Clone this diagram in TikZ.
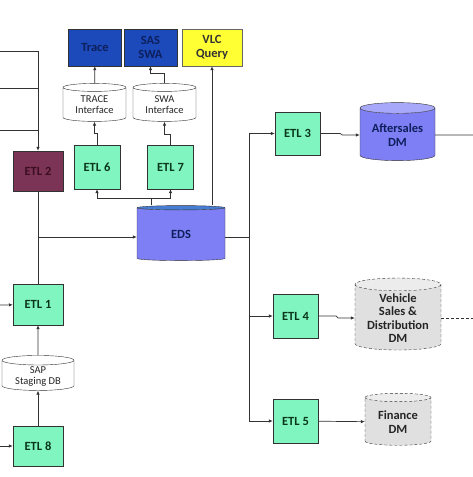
\documentclass[tikz,border=0pt]{standalone}
\usepackage{fontspec}
\setmainfont{Carlito}
\usetikzlibrary{shapes.geometric,arrows.meta}
\definecolor{etlgreen}{RGB}{128,245,192}
\definecolor{etltext}{RGB}{10,55,28}
\definecolor{maroonfill}{RGB}{123,52,85}
\definecolor{maroontext}{RGB}{60,14,34}
\definecolor{appblue}{RGB}{28,74,186}
\definecolor{apptext}{RGB}{13,31,92}
\definecolor{vlcyellow}{RGB}{255,255,51}
\definecolor{dmbody}{RGB}{127,127,245}
\definecolor{edstop}{RGB}{72,125,212}
\definecolor{dmtop}{RGB}{168,168,250}
\definecolor{grayfill}{RGB}{224,224,224}
\definecolor{graytop}{RGB}{236,236,236}
\definecolor{linegray}{RGB}{50,50,50}
\begin{document}
\begin{tikzpicture}[x=1pt,y=-1pt,
        font=\fontsize{12.5}{13.5}\selectfont\bfseries,
        >={Latex[length=4pt,width=3.5pt]},
        flow/.style={draw=linegray,line width=0.7pt},
        etlbox/.style={draw=linegray,fill=etlgreen,text=etltext,minimum width=46,minimum height=44,inner sep=1pt},
        appbox/.style={draw=linegray,fill=appblue,text=apptext,minimum width=53,minimum height=37,align=center,inner sep=1pt},
        db/.style={cylinder,shape border rotate=90,aspect=0.2,draw=linegray,align=center,inner sep=1pt},
        dmdb/.style={db,cylinder uses custom fill,cylinder body fill=dmbody,cylinder end fill=dmtop,text=apptext},
        ifdb/.style={db,fill=white,font=\fontsize{10.5}{11}\selectfont,text=black!85},
        graydb/.style={db,densely dashed,cylinder uses custom fill,cylinder body fill=grayfill,cylinder end fill=graytop,text=black!85}]
    \useasboundingbox (0,0) rectangle (473,477);

    % application boxes
    \node [appbox] (trace) at (95,47.5) {Trace};
    \node [appbox] (sasswa) at (150.5,47.5) {SAS\\SWA};
    \node [appbox,fill=vlcyellow,draw=black!60,text=black!80,minimum width=60] (vlc) at (212,47.5) {VLC\\Query};

    % interface stores
    \node [ifdb,minimum width=63,minimum height=38] (trif) at (94.5,105) {TRACE\\Interface};
    \node [ifdb,minimum width=63,minimum height=38] (swaif) at (164.5,105) {SWA\\Interface};
    \node [ifdb,minimum width=72,minimum height=34] (sap) at (38,376) {SAP\\Staging DB};

    % etl jobs
    \node [etlbox,fill=maroonfill,text=maroontext,minimum width=50,minimum height=40] (etl2) at (38,171) {ETL 2};
    \node [etlbox] (etl6) at (97,167) {ETL 6};
    \node [etlbox] (etl7) at (170.5,167) {ETL 7};
    \node [etlbox,minimum width=50,minimum height=41] (etl1) at (38,304.5) {ETL 1};
    \node [etlbox,minimum width=50,minimum height=40] (etl8) at (38,446) {ETL 8};
    \node [etlbox,minimum width=45,minimum height=43] (etl3) at (297.5,133.5) {ETL 3};
    \node [etlbox,minimum width=45] (etl4) at (295.5,316) {ETL 4};
    \node [etlbox,minimum width=45] (etl5) at (295.5,421) {ETL 5};

    % data stores
    \node [dmdb,cylinder end fill=edstop,minimum width=88,minimum height=55] (eds) at (181,234.5) {EDS};
    \node [dmdb,minimum width=75,minimum height=58] (aftersales) at (397.5,135) {Aftersales\\DM};
    \node [graydb,minimum width=86,minimum height=72] (vehicle) at (398,318) {Vehicle\\Sales \&\\Distribution\\DM};
    \node [graydb,minimum width=66,minimum height=52] (finance) at (398,422) {Finance\\DM};

    % free ends and joints
    \coordinate (in1) at (0,51);
    \coordinate (in2) at (0,88);
    \coordinate (in3) at (0,130);
    \coordinate (in4) at (0,305);
    \coordinate (in5) at (0,446);
    \coordinate (j1) at (38,237);
    \coordinate (j2) at (151,198);
    \coordinate (j3) at (249,237);
    \coordinate (out1) at (473,135);
    \coordinate (out2) at (473,318);

    % left side
    \draw [flow,->] (in1) -| (etl2);
    \draw [flow] (in2) -- (in2 -| etl2);
    \draw [flow] (in3) -- (in3 -| etl2);
    \draw [flow] (etl2) -- (j1);
    \draw [flow] (etl1) -- (j1);
    \draw [flow,->] (j1) -- (j1 -| eds.west);
    \draw [flow,->] (in4) -- (etl1);
    \draw [flow,->] (in5) -- (etl8);
    \draw [flow,->] (sap) -- (etl1);
    \draw [flow,->] (etl8) -- (sap);

    % top
    \draw [flow] (eds.north -| j2) -- (j2);
    \draw [flow,->] (j2) -| (etl6);
    \draw [flow,->] (j2) -| (etl7);
    \draw [flow,->] (etl6.north) -- ++(0,-11) -| (trif);
    \draw [flow,->] (etl7.north) -- ++(0,-10) -| (swaif);
    \draw [flow,->] (trif) -- (trace);
    \draw [flow,->] (swaif.north) -- ++(0,-10) -| (sasswa);
    \draw [flow,->] (eds.north -| vlc) -- (vlc);

    % right side
    \draw [flow] (j3 -| eds.east) -- (j3);
    \draw [flow] (etl3 -| j3) -- (etl5 -| j3);
    \draw [flow,->] (etl3 -| j3) -- (etl3);
    \draw [flow,->] (etl4 -| j3) -- (etl4);
    \draw [flow,->] (etl5 -| j3) -- (etl5);
    \draw [flow,->] (etl3.east) -- ++(20,0) -- ++(2,1.5) -- (aftersales.west);
    \draw [flow,->] (etl4.east) -- ++(18,0) -- ++(2,2) -- (vehicle.west);
    \draw [flow,->] (etl5) -- (finance);
    \draw [flow] (aftersales) -- (out1);
    \draw [flow,densely dashed] (vehicle) -- (out2);
\end{tikzpicture}
\end{document}
